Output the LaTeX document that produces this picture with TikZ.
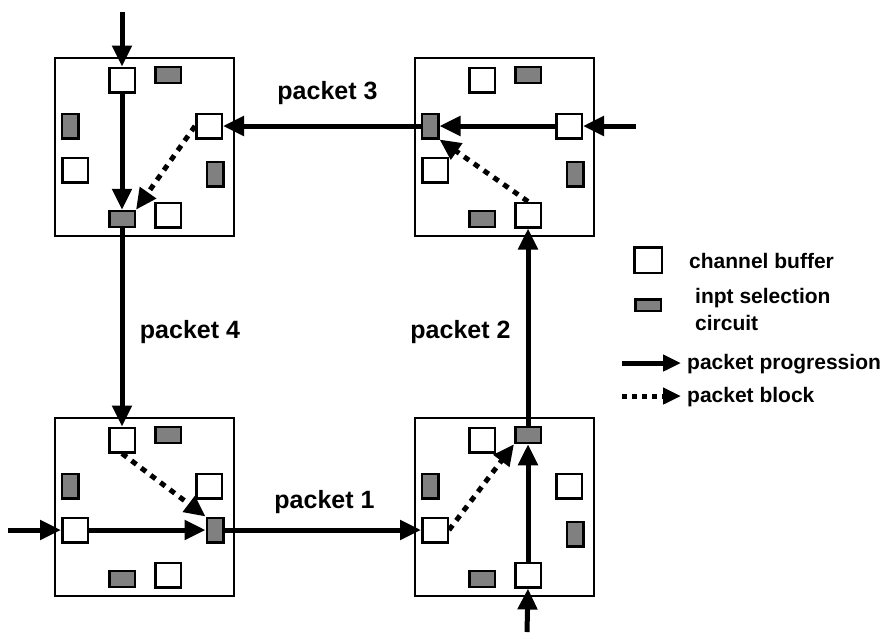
\documentclass[tikz,border=0pt]{standalone}
\usepackage{fontspec}
\setmainfont{Liberation Sans}
\usetikzlibrary{arrows.meta,calc}
\tikzset{
 buf/.style={draw, line width=2.5pt, fill=white, minimum width=25.5pt, minimum height=24.5pt, inner sep=0pt},
 selh/.style={draw, line width=2.5pt, fill=black!50, minimum width=25.5pt, minimum height=16pt, inner sep=0pt},
 selv/.style={draw, line width=2.5pt, fill=black!50, minimum width=16.5pt, minimum height=24.5pt, inner sep=0pt},
 routerbox/.style={draw, line width=2pt, minimum width=179pt, minimum height=178pt, inner sep=0pt},
 prog/.style={line width=5pt, -{Triangle[width=19pt,length=21pt]}},
 blk/.style={line width=5pt, line cap=butt, dash pattern=on 6pt off 6pt, -{Triangle[width=19pt,length=21pt]}},
 legprog/.style={line width=5pt, -{Triangle[width=16pt,length=18pt]}},
 legblk/.style={line width=5pt, line cap=butt, dash pattern=on 5pt off 5pt, -{Triangle[width=16pt,length=18pt]}},
 lbl/.style={font=\fontsize{25}{29}\selectfont\bfseries, inner sep=0pt, anchor=base},
 leg/.style={font=\fontsize{21}{25}\selectfont\bfseries, inner sep=0pt, anchor=base west},
}
\newcommand\drawrouter[4]{%
 \begin{scope}[shift={(#2,#3)}]
  \node[routerbox] (#1) at (90.5,90) {};
  \node[buf]  (#1-wt) at (68,23) {};
  \node[selh] (#1-gt) at (114,18) {};
  \node[selv] (#1-gl) at (16,69) {};
  \node[buf]  (#1-wr) at (155,69) {};
  \node[buf]  (#1-wl) at (21,113) {};
  \node[selv] (#1-gr) at (161,#4) {};
  \node[selh] (#1-gb) at (68,162) {};
  \node[buf]  (#1-wb) at (114,158) {};
 \end{scope}}
\begin{document}
\begin{tikzpicture}[x=1pt,y=-1pt]
\useasboundingbox (0,0) rectangle (894,638);
% routers
\drawrouter{TL}{54}{57}{117}
\drawrouter{TR}{414}{57}{117}
\drawrouter{BL}{54}{417}{113}
\drawrouter{BR}{414}{417}{117}
% free ends of input connectors
\coordinate (inTL) at (122,12);
\coordinate (inTR) at (636,126);
\coordinate (inBL) at (8,530);
\coordinate (inBR) at (527,632);
% inputs
\draw[prog] (inTL) -- (TL-wt.north);
\draw[prog] (inTR) -- (TR-wr.east);
\draw[prog] (inBL) -- (BL-wl.west);
\draw[prog] (inBR) -- (BR-wb.south);
% inside routers
\draw[prog] (TL-wt.south) -- (TL-gb.north);
\draw[prog] (TR-wr.west) -- (TR-gl.east);
\draw[prog] (BL-wl.east) -- (BL-gr.west);
\draw[prog] (BR-wb.north) -- (BR-gt.south);
% between routers
\draw[prog] (TL-gb.south) -- (BL-wt.north);
\draw[prog] (BL-gr.east) -- (BR-wl.west);
\draw[prog] (BR-gt.north) -- (TR-wb.south);
\draw[prog] (TR-gl.west) -- (TL-wr.east);
% blocked
\draw[blk] (TL-wr.west) -- (TL-gb.north east);
\draw[blk] (TR-wb.north) -- (TR-gl.south east);
\draw[blk] (BL-wt.south) -- (BL-gr.north west);
\draw[blk] (BR-wl.east) -- (BR-gt.south west);
% labels
\node[lbl] (p3) at (327.5,99) {packet 3};
\node[lbl] (p4) at (190,338) {packet 4};
\node[lbl] (p2) at (460.5,338) {packet 2};
\node[lbl] (p1) at (324.5,508) {packet 1};
% legend
\node[draw, line width=2.5pt, fill=white, minimum width=27.5pt, minimum height=25.5pt, inner sep=0pt] (lbuf) at (648,260) {};
\node[leg] (tbuf) at (689,268) {channel buffer};
\node[draw, line width=2.5pt, fill=black!50, minimum width=25.5pt, minimum height=11.5pt, inner sep=0pt] (lsel) at (648,305) {};
\node[leg] (tsel1) at (695,303) {inpt selection};
\node[leg] (tsel2) at (695,330) {circuit};
\coordinate (lp1) at (622,363);
\coordinate (lp2) at (681,363);
\draw[legprog] (lp1) -- (lp2);
\node[leg] (tprog) at (687,369) {packet progression};
\coordinate (lb1) at (622,396);
\coordinate (lb2) at (681,396);
\draw[legblk] (lb1) -- (lb2);
\node[leg] (tblk) at (687,402) {packet block};
\end{tikzpicture}
\end{document}
